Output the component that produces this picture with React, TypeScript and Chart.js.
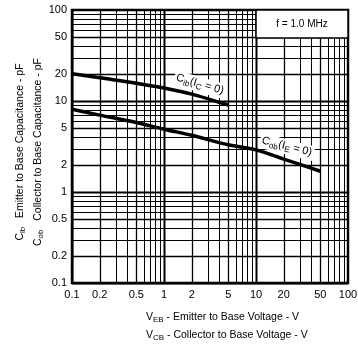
import React, { useEffect, useRef } from "react";
import { Chart, registerables } from "chart.js";

Chart.register(...registerables);

// Capacitance vs reverse voltage, f = 1.0 MHz
const cibVoltage = [0.1, 0.2, 0.5, 1, 2, 5];
const cibCapacitance = [20, 18, 15.7, 13.9, 11.9, 9.0];
const cobVoltage = [0.1, 0.2, 0.5, 1, 2, 5, 10, 20, 50];
const cobCapacitance = [8.1, 7.0, 5.8, 4.9, 4.2, 3.3, 2.9, 2.3, 1.69];

const xTickValues = [0.1, 0.2, 0.5, 1, 2, 5, 10, 20, 50, 100];
const xTickLabels = ["0.1", "0.2", "0.5", "1", "2", "5", "10", "20", "50", "100"];
const yTickValues = [0.1, 0.2, 0.5, 1, 2, 5, 10, 20, 50, 100];
const yTickLabels = ["0.1", "0.2", "0.5", "1", "2", "5", "10", "20", "50", "100"];

const decades = [0.1, 1, 10];
const multipliers = [1, 2, 3, 4, 5, 6, 7, 8, 9];

const FONT = "'Liberation Sans', Arial, sans-serif";

type Part = { t: string; sub?: boolean };

function richWidth(ctx: CanvasRenderingContext2D, parts: Part[], size: number, subSize: number) {
  let w = 0;
  for (const p of parts) {
    ctx.font = `${p.sub ? subSize : size}px ${FONT}`;
    w += ctx.measureText(p.t).width;
  }
  return w;
}

function drawRich(
  ctx: CanvasRenderingContext2D,
  parts: Part[],
  x: number,
  y: number,
  size: number,
  subSize: number,
  align: "left" | "center"
) {
  const w = richWidth(ctx, parts, size, subSize);
  let cx = align === "center" ? x - w / 2 : x;
  ctx.textBaseline = "middle";
  ctx.textAlign = "left";
  for (const p of parts) {
    ctx.font = `${p.sub ? subSize : size}px ${FONT}`;
    ctx.fillText(p.t, cx, p.sub ? y + size * 0.3 : y);
    cx += ctx.measureText(p.t).width;
  }
  return w;
}

const cibLabel: Part[] = [
  { t: "C" },
  { t: "ib", sub: true },
  { t: "(I" },
  { t: "C", sub: true },
  { t: " = 0)" },
];
const cobLabel: Part[] = [
  { t: "C" },
  { t: "ob", sub: true },
  { t: "(I" },
  { t: "E", sub: true },
  { t: " = 0)" },
];

const gridPlugin = {
  id: "logGrid",
  beforeDatasetsDraw(chart: any) {
    const { ctx, chartArea: a, scales } = chart;
    const xs = scales.x;
    const ys = scales.y;
    ctx.save();
    ctx.strokeStyle = "#000";
    for (const d of decades) {
      for (const m of multipliers) {
        const v = d * m;
        const w = m === 1 ? 2 : m === 2 || m === 5 ? 1.3 : 1;
        ctx.lineWidth = w;
        const px = Math.round(xs.getPixelForValue(v)) + 0.5;
        ctx.beginPath();
        ctx.moveTo(px, a.top);
        ctx.lineTo(px, a.bottom);
        ctx.stroke();
        const py = Math.round(ys.getPixelForValue(v)) + 0.5;
        ctx.beginPath();
        ctx.moveTo(a.left, py);
        ctx.lineTo(a.right, py);
        ctx.stroke();
      }
    }
    ctx.lineWidth = 2.5;
    ctx.strokeRect(a.left, a.top, a.right - a.left, a.bottom - a.top);

    // frequency note box
    const bx = a.right - 92;
    const bh = 28;
    ctx.fillStyle = "#fff";
    ctx.fillRect(bx, a.top, a.right - bx, bh);
    ctx.lineWidth = 1.5;
    ctx.strokeRect(bx, a.top, a.right - bx, bh);
    ctx.fillStyle = "#000";
    ctx.font = `10px ${FONT}`;
    ctx.textAlign = "center";
    ctx.textBaseline = "middle";
    ctx.fillText("f = 1.0 MHz", (bx + a.right) / 2, a.top + bh / 2);
    ctx.restore();
  },
  afterDatasetsDraw(chart: any) {
    const { ctx, scales } = chart;
    const xs = scales.x;
    const ys = scales.y;
    const labels = [
      { parts: cibLabel, v: 2.46, c: 15.3, angle: 16 },
      { parts: cobLabel, v: 21.7, c: 3.16, angle: 14 },
    ];
    for (const l of labels) {
      const x = xs.getPixelForValue(l.v);
      const y = ys.getPixelForValue(l.c);
      ctx.save();
      ctx.translate(x, y);
      ctx.rotate((l.angle * Math.PI) / 180);
      const w = richWidth(ctx, l.parts, 11, 8);
      ctx.fillStyle = "#fff";
      ctx.fillRect(-w / 2 - 2, -7, w + 4, 15);
      ctx.fillStyle = "#000";
      drawRich(ctx, l.parts, 0, 0, 11, 8, "center");
      ctx.restore();
    }
  },
  afterDraw(chart: any) {
    const { ctx } = chart;
    ctx.save();
    ctx.fillStyle = "#000";
    // y-axis titles
    const yLines: Part[][] = [
      [{ t: "C" }, { t: "ib", sub: true }, { t: "   Emitter to Base Capacitance - pF" }],
      [{ t: "C" }, { t: "ob", sub: true }, { t: "   Collector to Base Capacitance - pF" }],
    ];
    const yx = [20, 38];
    yLines.forEach((parts, i) => {
      ctx.save();
      ctx.translate(yx[i], 152);
      ctx.rotate(-Math.PI / 2);
      drawRich(ctx, parts, 0, 0, 10.5, 8, "center");
      ctx.restore();
    });
    // x-axis titles
    drawRich(
      ctx,
      [{ t: "V" }, { t: "EB", sub: true }, { t: " - Emitter to Base Voltage - V" }],
      146,
      317,
      10.5,
      8,
      "left"
    );
    drawRich(
      ctx,
      [{ t: "V" }, { t: "CB", sub: true }, { t: " - Collector to Base Voltage - V" }],
      146,
      335,
      10.5,
      8,
      "left"
    );
    ctx.restore();
  },
};

export default function App() {
  const ref = useRef<HTMLCanvasElement | null>(null);

  useEffect(() => {
    if (!ref.current) return;
    const chart = new Chart(ref.current, {
      type: "line",
      data: {
        datasets: [
          {
            data: cibVoltage.map((v, i) => ({ x: v, y: cibCapacitance[i] })),
            borderColor: "#000",
            borderWidth: 3.5,
            pointRadius: 0,
            cubicInterpolationMode: "monotone",
          },
          {
            data: cobVoltage.map((v, i) => ({ x: v, y: cobCapacitance[i] })),
            borderColor: "#000",
            borderWidth: 3.5,
            pointRadius: 0,
            cubicInterpolationMode: "monotone",
          },
        ],
      },
      options: {
        responsive: false,
        animation: false,
        layout: { padding: { top: 10, right: 10, left: 0, bottom: 0 } },
        plugins: { legend: { display: false }, tooltip: { enabled: false } },
        scales: {
          x: {
            type: "logarithmic",
            min: 0.1,
            max: 100,
            afterBuildTicks: (s: any) => {
              s.ticks = xTickValues.map((v) => ({ value: v }));
            },
            afterFit: (s: any) => {
              s.height = 64;
              s.paddingLeft = 0;
              s.paddingRight = 0;
            },
            ticks: {
              autoSkip: false,
              maxRotation: 0,
              padding: 5,
              color: "#000",
              font: { family: FONT, size: 11 },
              callback: (_v: any, i: number) => xTickLabels[i],
            },
            grid: { display: false, drawTicks: false },
            border: { display: false },
          },
          y: {
            type: "logarithmic",
            min: 0.1,
            max: 100,
            afterBuildTicks: (s: any) => {
              s.ticks = yTickValues.map((v) => ({ value: v }));
            },
            afterFit: (s: any) => {
              s.width = 72;
              s.paddingTop = 0;
              s.paddingBottom = 0;
            },
            ticks: {
              autoSkip: false,
              padding: 5,
              color: "#000",
              font: { family: FONT, size: 11 },
              callback: (_v: any, i: number) => yTickLabels[i],
            },
            grid: { display: false, drawTicks: false },
            border: { display: false },
          },
        },
      },
      plugins: [gridPlugin],
    } as any);
    return () => chart.destroy();
  }, []);

  return (
    <div style={{ position: "fixed", left: 0, top: 0, width: 358, height: 347, background: "#fff" }}>
      <canvas ref={ref} width={358} height={347} />
    </div>
  );
}
